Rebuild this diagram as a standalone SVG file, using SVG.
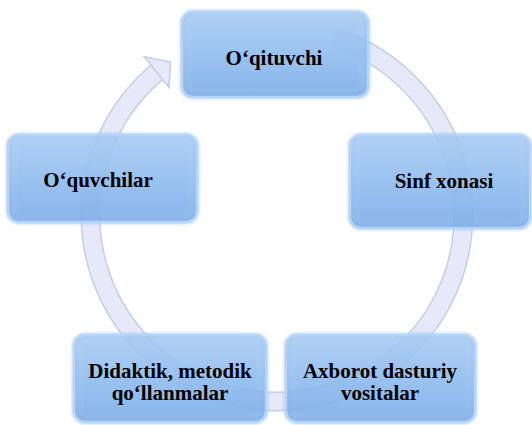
<svg xmlns="http://www.w3.org/2000/svg" width="532" height="425" viewBox="0 0 532 425">
<defs>
<linearGradient id="boxg" x1="0" y1="0" x2="0" y2="1">
<stop offset="0" stop-color="#a3c8f2"/>
<stop offset="0.5" stop-color="#8cb9ee"/>
<stop offset="1" stop-color="#78aae6"/>
</linearGradient>
<linearGradient id="bevel" x1="0" y1="0" x2="0" y2="1">
<stop offset="0" stop-color="#a9ccf3"/>
<stop offset="1" stop-color="#86b5ec"/>
</linearGradient>
<filter id="glow" x="-10%" y="-10%" width="120%" height="120%">
<feGaussianBlur stdDeviation="1.5"/>
</filter>
</defs>
<style>
.outer{fill:url(#boxg);stroke:#b4d3f6;stroke-width:2.5;opacity:0.84}
.inner{fill:url(#bevel);opacity:0.5}
.halo{fill:none;stroke:#a8cbf4;stroke-width:4;filter:url(#glow);opacity:0.8}
.lbl{font-weight:bold;font-size:21px;fill:#000;text-anchor:middle}
.ringEdge{fill:none;stroke:#c6cde8;stroke-width:20}
.ringBody{fill:none;stroke:#e5e9f8;stroke-width:17}
.head{fill:#e5e9f8;stroke:#c6cde8;stroke-width:1.5;stroke-linejoin:miter}
</style>
<g id="connectors">
<path class="ringEdge" d="M 334.6 37.6 A 186.5 186.5 0 1 1 157.1 72.1"/>
<path class="ringBody" d="M 334.6 37.6 A 186.5 186.5 0 1 1 157.1 72.1"/>
<polygon class="head" points="144.3,56.8 170.5,62 169,87.5"/>
</g>
<g id="node-oqituvchi">
<rect class="halo" x="182" y="12" width="186" height="85" rx="11"/>
<rect class="outer" x="182" y="12" width="186" height="85" rx="11"/>
<rect class="inner" x="192" y="21" width="166" height="67" rx="4"/>
<text class="lbl" font-family="'Liberation Serif', 'DejaVu Serif', serif" x="274" y="65">O‘qituvchi</text>
</g>
<g id="node-sinf">
<rect class="halo" x="350" y="135" width="180" height="93" rx="11"/>
<rect class="outer" x="350" y="135" width="180" height="93" rx="11"/>
<rect class="inner" x="360" y="144" width="160" height="75" rx="4"/>
<text class="lbl" font-family="'Liberation Serif', 'DejaVu Serif', serif" x="444" y="188">Sinf xonasi</text>
</g>
<g id="node-axborot">
<rect class="halo" x="286" y="335" width="189" height="87" rx="11"/>
<rect class="outer" x="286" y="335" width="189" height="87" rx="11"/>
<rect class="inner" x="296" y="344" width="169" height="69" rx="4"/>
<text class="lbl" font-family="'Liberation Serif', 'DejaVu Serif', serif" x="380" y="378">Axborot dasturiy</text>
<text class="lbl" font-family="'Liberation Serif', 'DejaVu Serif', serif" x="380" y="400">vositalar</text>
</g>
<g id="node-didaktik">
<rect class="halo" x="74" y="335" width="192" height="87" rx="11"/>
<rect class="outer" x="74" y="335" width="192" height="87" rx="11"/>
<rect class="inner" x="84" y="344" width="172" height="69" rx="4"/>
<text class="lbl" font-family="'Liberation Serif', 'DejaVu Serif', serif" x="170" y="378">Didaktik, metodik</text>
<text class="lbl" font-family="'Liberation Serif', 'DejaVu Serif', serif" x="170" y="400">qo‘llanmalar</text>
</g>
<g id="node-oquvchilar">
<rect class="halo" x="8" y="135" width="189" height="87" rx="11"/>
<rect class="outer" x="8" y="135" width="189" height="87" rx="11"/>
<rect class="inner" x="18" y="144" width="169" height="69" rx="4"/>
<text class="lbl" font-family="'Liberation Serif', 'DejaVu Serif', serif" x="98" y="187">O‘quvchilar</text>
</g>
</svg>
